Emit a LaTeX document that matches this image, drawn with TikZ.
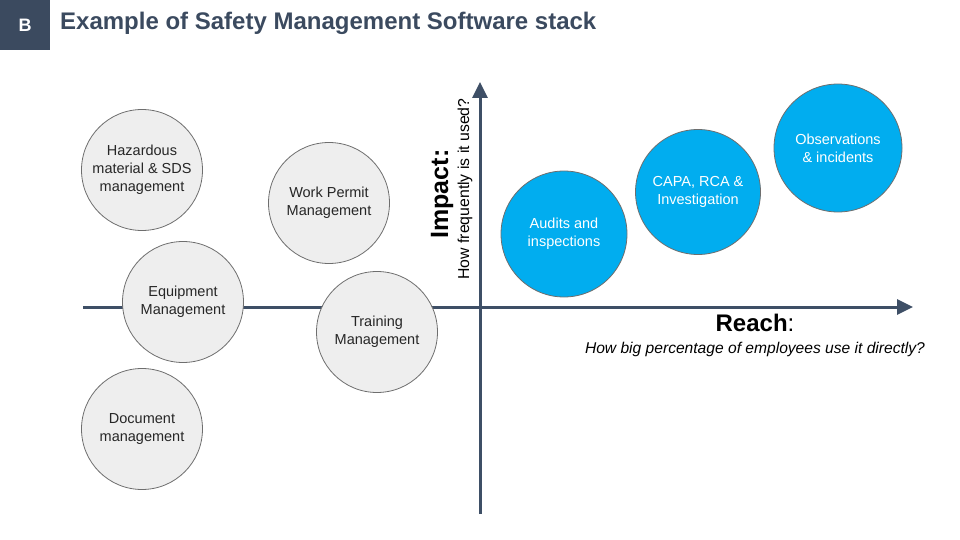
\documentclass[tikz,border=0pt]{standalone}
\usepackage{fontspec}
\setmainfont{Liberation Sans}
\usetikzlibrary{arrows.meta}
\definecolor{navy}{HTML}{3B4A5F}
\definecolor{bubgray}{HTML}{EEEEEE}
\definecolor{bubline}{HTML}{6E6E6E}
\definecolor{bubblue}{HTML}{01ADEF}
\definecolor{axiscol}{HTML}{3E4F66}
\tikzset{
  bubble/.style={circle, draw=bubline, line width=0.8pt, minimum size=#1, inner sep=0pt, align=center, font=\fontsize{14.5}{18}\selectfont},
  graybub/.style={bubble=#1, fill=bubgray, text=black!85},
  bluebub/.style={bubble=#1, fill=bubblue, text=white},
  axis/.style={draw=axiscol, line width=3pt, -{Triangle[length=16pt,width=15pt]}}
}
\begin{document}
\begin{tikzpicture}[x=1pt,y=-1pt]
\useasboundingbox (0,0) rectangle (960,540);
% header
\node[fill=navy, minimum width=50pt, minimum height=50pt, inner sep=0pt, anchor=north west, text=white, font=\bfseries\fontsize{18}{20}\selectfont] (badge) at (0,0) {B};
\node[anchor=west, text=navy, font=\bfseries\fontsize{24}{26}\selectfont, inner sep=0pt] (title) at (60,23) {Example of Safety Management Software stack};
% axes
\coordinate (xl) at (83,307);
\coordinate (xr) at (913,307);
\coordinate (yb) at (480,514);
\coordinate (yt) at (480,82);
\draw[axis] (xl) -- (xr);
\draw[axis] (yb) -- (yt);
% axis labels
\node[rotate=90, font=\bfseries\fontsize{25}{28}\selectfont, inner sep=0pt] (impact) at (442,194) {Impact:};
\node[rotate=90, font=\fontsize{15.8}{18}\selectfont, inner sep=0pt] (impactsub) at (465,189) {How frequently is it used?};
\node[font=\fontsize{24}{28}\selectfont, inner sep=0pt] (reach) at (755,323) {\textbf{Reach}:};
\node[font=\itshape\fontsize{15.6}{18}\selectfont, inner sep=0pt] (reachsub) at (755,349) {How big percentage of employees use it directly?};
% bubbles
\node[graybub=121pt] (haz) at (142,170) {Hazardous\\material \& SDS\\management};
\node[graybub=121pt] (wpm) at (329,203) {Work Permit\\Management};
\node[graybub=121pt] (equip) at (183,302) {Equipment\\Management};
\node[graybub=121pt] (train) at (377,332) {Training\\Management};
\node[graybub=121pt] (doc) at (142,429) {Document\\management};
\node[bluebub=126pt] (audit) at (564,234) {Audits and\\inspections};
\node[bluebub=125pt] (capa) at (698,192) {CAPA, RCA \&\\Investigation};
\node[bluebub=128pt] (obs) at (838,148) {Observations\\\& incidents};
\end{tikzpicture}
\end{document}
